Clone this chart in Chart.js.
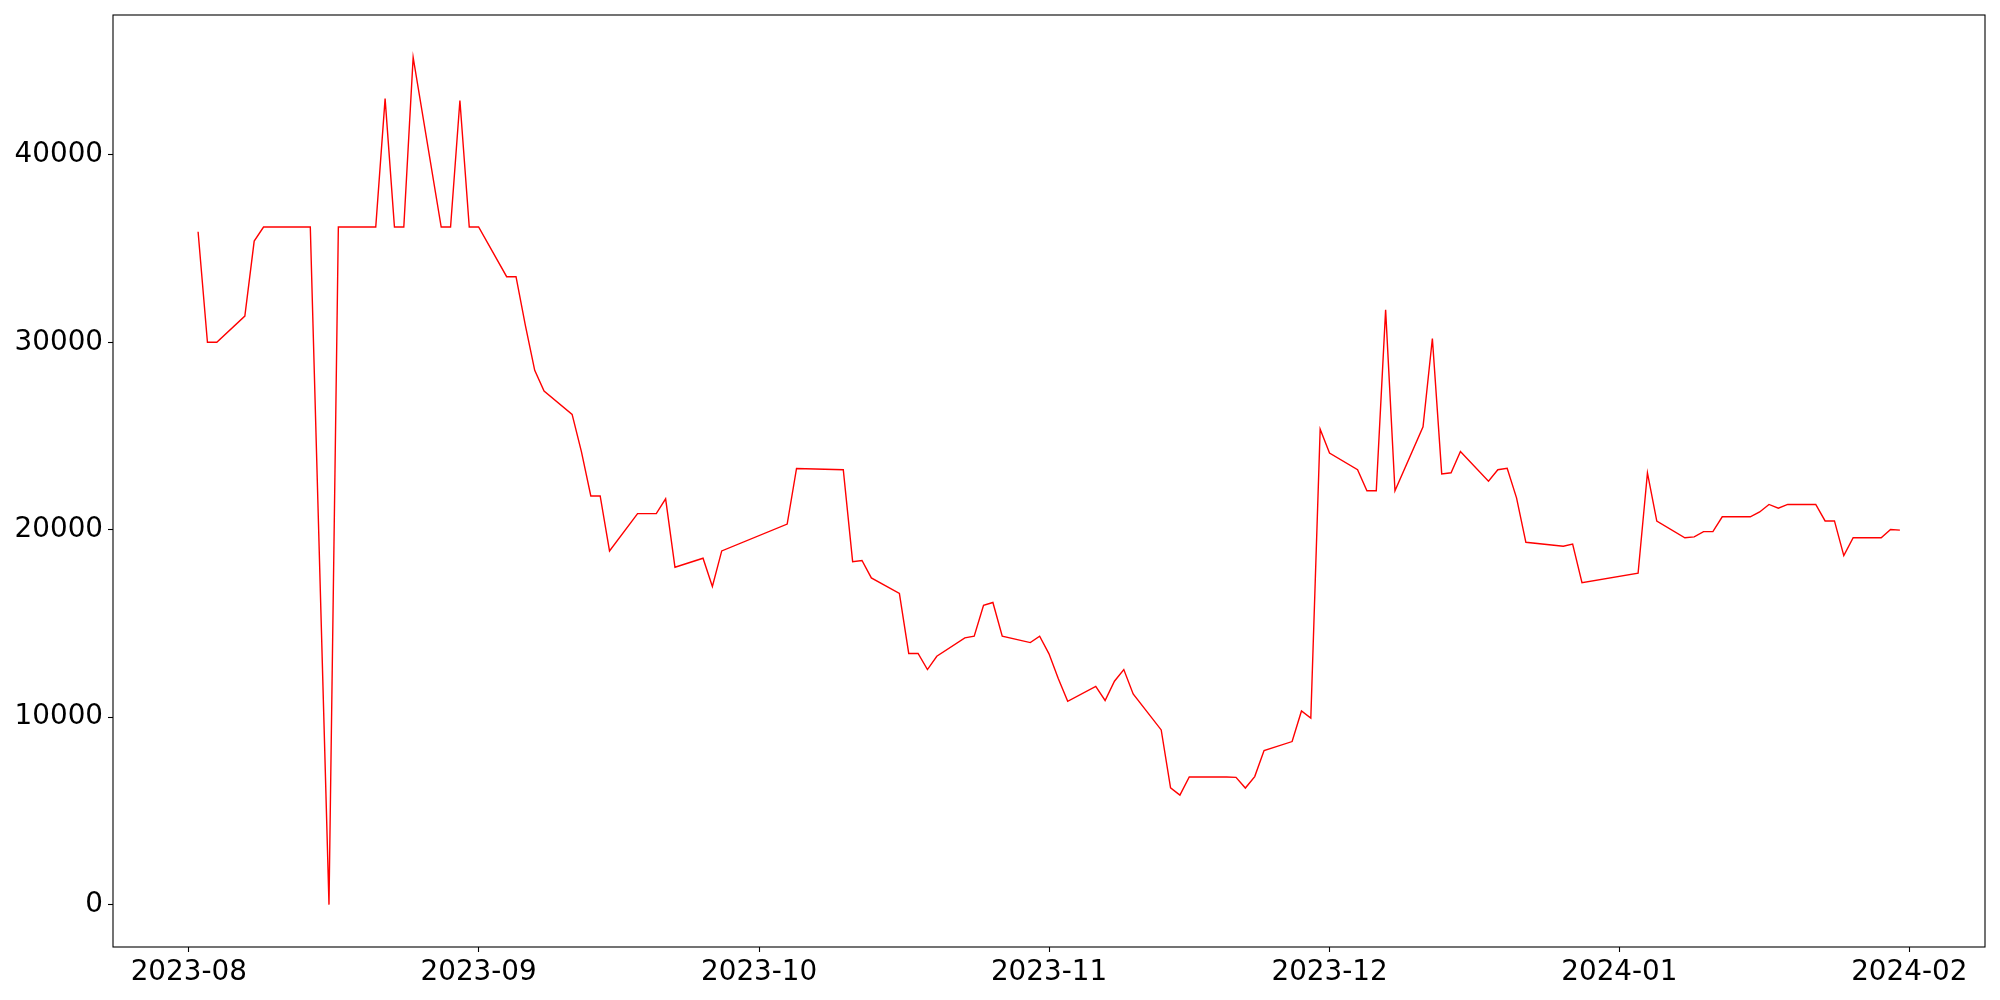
<!DOCTYPE html>
<html>
<head>
<meta charset="utf-8">
<script src="https://cdn.jsdelivr.net/npm/chart.js@4.4.1/dist/chart.umd.min.js"></script>
<style>
  html, body { margin: 0; padding: 0; background: #fff; }
  #wrap { width: 2000px; height: 1000px; position: relative; }
</style>
</head>
<body>
<div id="wrap"><canvas id="chart"></canvas></div>
<script>
// trading days
const dates = [
    '2023-08-02', '2023-08-03', '2023-08-04', '2023-08-07', '2023-08-08', '2023-08-09', '2023-08-10', '2023-08-11',
    '2023-08-14', '2023-08-16', '2023-08-17', '2023-08-18', '2023-08-21', '2023-08-22', '2023-08-23', '2023-08-24',
    '2023-08-25', '2023-08-28', '2023-08-29', '2023-08-30', '2023-08-31', '2023-09-01', '2023-09-04', '2023-09-05',
    '2023-09-06', '2023-09-07', '2023-09-08', '2023-09-11', '2023-09-12', '2023-09-13', '2023-09-14', '2023-09-15',
    '2023-09-18', '2023-09-19', '2023-09-20', '2023-09-21', '2023-09-22', '2023-09-25', '2023-09-26', '2023-09-27',
    '2023-10-04', '2023-10-05', '2023-10-10', '2023-10-11', '2023-10-12', '2023-10-13', '2023-10-16', '2023-10-17',
    '2023-10-18', '2023-10-19', '2023-10-20', '2023-10-23', '2023-10-24', '2023-10-25', '2023-10-26', '2023-10-27',
    '2023-10-30', '2023-10-31', '2023-11-01', '2023-11-02', '2023-11-03', '2023-11-06', '2023-11-07', '2023-11-08',
    '2023-11-09', '2023-11-10', '2023-11-13', '2023-11-14', '2023-11-15', '2023-11-16', '2023-11-17', '2023-11-20',
    '2023-11-21', '2023-11-22', '2023-11-23', '2023-11-24', '2023-11-27', '2023-11-28', '2023-11-29', '2023-11-30',
    '2023-12-01', '2023-12-04', '2023-12-05', '2023-12-06', '2023-12-07', '2023-12-08', '2023-12-11', '2023-12-12',
    '2023-12-13', '2023-12-14', '2023-12-15', '2023-12-18', '2023-12-19', '2023-12-20', '2023-12-21', '2023-12-22',
    '2023-12-26', '2023-12-27', '2023-12-28', '2024-01-03', '2024-01-04', '2024-01-05', '2024-01-08', '2024-01-09',
    '2024-01-10', '2024-01-11', '2024-01-12', '2024-01-15', '2024-01-16', '2024-01-17', '2024-01-18', '2024-01-19',
    '2024-01-22', '2024-01-23', '2024-01-24', '2024-01-25', '2024-01-26', '2024-01-29', '2024-01-30', '2024-01-31'
];

const values = [
    35900, 30000, 30000, 31400, 35400, 36150, 36150, 36150,
    36150, 0, 36150, 36150, 36150, 43000, 36150, 36150,
    45200, 36150, 36150, 42900, 36150, 36150, 33500, 33500,
    30900, 28500, 27400, 26150, 24150, 21800, 21800, 18870,
    20860, 20860, 20860, 21650, 18000, 18480, 16970, 18870,
    20300, 23270, 23200, 18300, 18360, 17430, 16600, 13400,
    13400, 12540, 13250, 14230, 14320, 15970, 16120, 14320,
    13980, 14320, 13380, 12050, 10850, 11640, 10890, 11920,
    12540, 11240, 9320, 6230, 5840, 6810, 6810, 6810,
    6790, 6220, 6830, 8220, 8700, 10330, 9950, 25360,
    24090, 23200, 22080, 22080, 31730, 22080, 25490, 30200,
    22980, 23040, 24170, 22590, 23200, 23280, 21700, 19330,
    19120, 19230, 17170, 17680, 23030, 20460, 19570, 19620,
    19900, 19900, 20690, 20690, 20950, 21350, 21150, 21350,
    21350, 20470, 20470, 18620, 19570, 19570, 20010, 19980
];

const xTickLabels = ['2023-08', '2023-09', '2023-10', '2023-11', '2023-12', '2024-01', '2024-02'];
const yTickValues = [0, 10000, 20000, 30000, 40000];

const DAY = 86400000;
const origin = Date.UTC(2023, 7, 1);
function dayNum(s) {
    const p = s.split('-').map(Number);
    return (Date.UTC(p[0], p[1] - 1, p[2] || 1) - origin) / DAY;
}

const points = dates.map((d, i) => ({ x: dayNum(d), y: values[i] }));
const xTicks = xTickLabels.map(dayNum);

// matplotlib style 5% margins
const xMinData = points[0].x, xMaxData = points[points.length - 1].x;
const xPad = (xMaxData - xMinData) * 0.05;
const yMinData = Math.min(...values), yMaxData = Math.max(...values);
const yPad = (yMaxData - yMinData) * 0.05;

const tickFont = { family: 'DejaVu Sans', size: 27.8 };

const frame = {
    id: 'frame',
    afterDraw(chart) {
        const a = chart.chartArea;
        const ctx = chart.ctx;
        ctx.save();
        ctx.strokeStyle = '#000';
        ctx.lineWidth = 1.1;
        ctx.strokeRect(a.left, a.top, a.right - a.left, a.bottom - a.top);
        ctx.restore();
    }
};

new Chart(document.getElementById('chart'), {
    type: 'line',
    data: {
        datasets: [{
            data: points,
            borderColor: '#ff0000',
            borderWidth: 1.4,
            pointRadius: 0,
            tension: 0,
            fill: false
        }]
    },
    options: {
        responsive: true,
        maintainAspectRatio: false,
        animation: false,
        devicePixelRatio: 1,
        layout: { padding: { top: 15, right: 15, left: 0, bottom: 0 } },
        plugins: { legend: { display: false }, tooltip: { enabled: false } },
        scales: {
            x: {
                type: 'linear',
                min: xMinData - xPad,
                max: xMaxData + xPad,
                afterBuildTicks: scale => { scale.ticks = xTicks.map(v => ({ value: v })); },
                afterFit: scale => {
                    scale.height = 53;
                    scale.paddingLeft = 0;
                    scale.paddingRight = 0;
                },
                border: { display: false },
                grid: { drawOnChartArea: false, tickLength: 5, tickColor: '#000', tickWidth: 1.1 },
                ticks: {
                    autoSkip: false,
                    maxRotation: 0,
                    padding: 4,
                    color: '#000',
                    font: tickFont,
                    callback: value => xTickLabels[xTicks.indexOf(value)]
                }
            },
            y: {
                type: 'linear',
                min: yMinData - yPad,
                max: yMaxData + yPad,
                afterBuildTicks: scale => { scale.ticks = yTickValues.map(v => ({ value: v })); },
                afterFit: scale => {
                    scale.width = 113;
                    scale.paddingTop = 0;
                    scale.paddingBottom = 0;
                },
                border: { display: false },
                grid: { drawOnChartArea: false, tickLength: 5, tickColor: '#000', tickWidth: 1.1 },
                ticks: {
                    padding: 5,
                    color: '#000',
                    font: tickFont,
                    callback: value => String(value)
                }
            }
        }
    },
    plugins: [frame]
});
</script>
</body>
</html>
